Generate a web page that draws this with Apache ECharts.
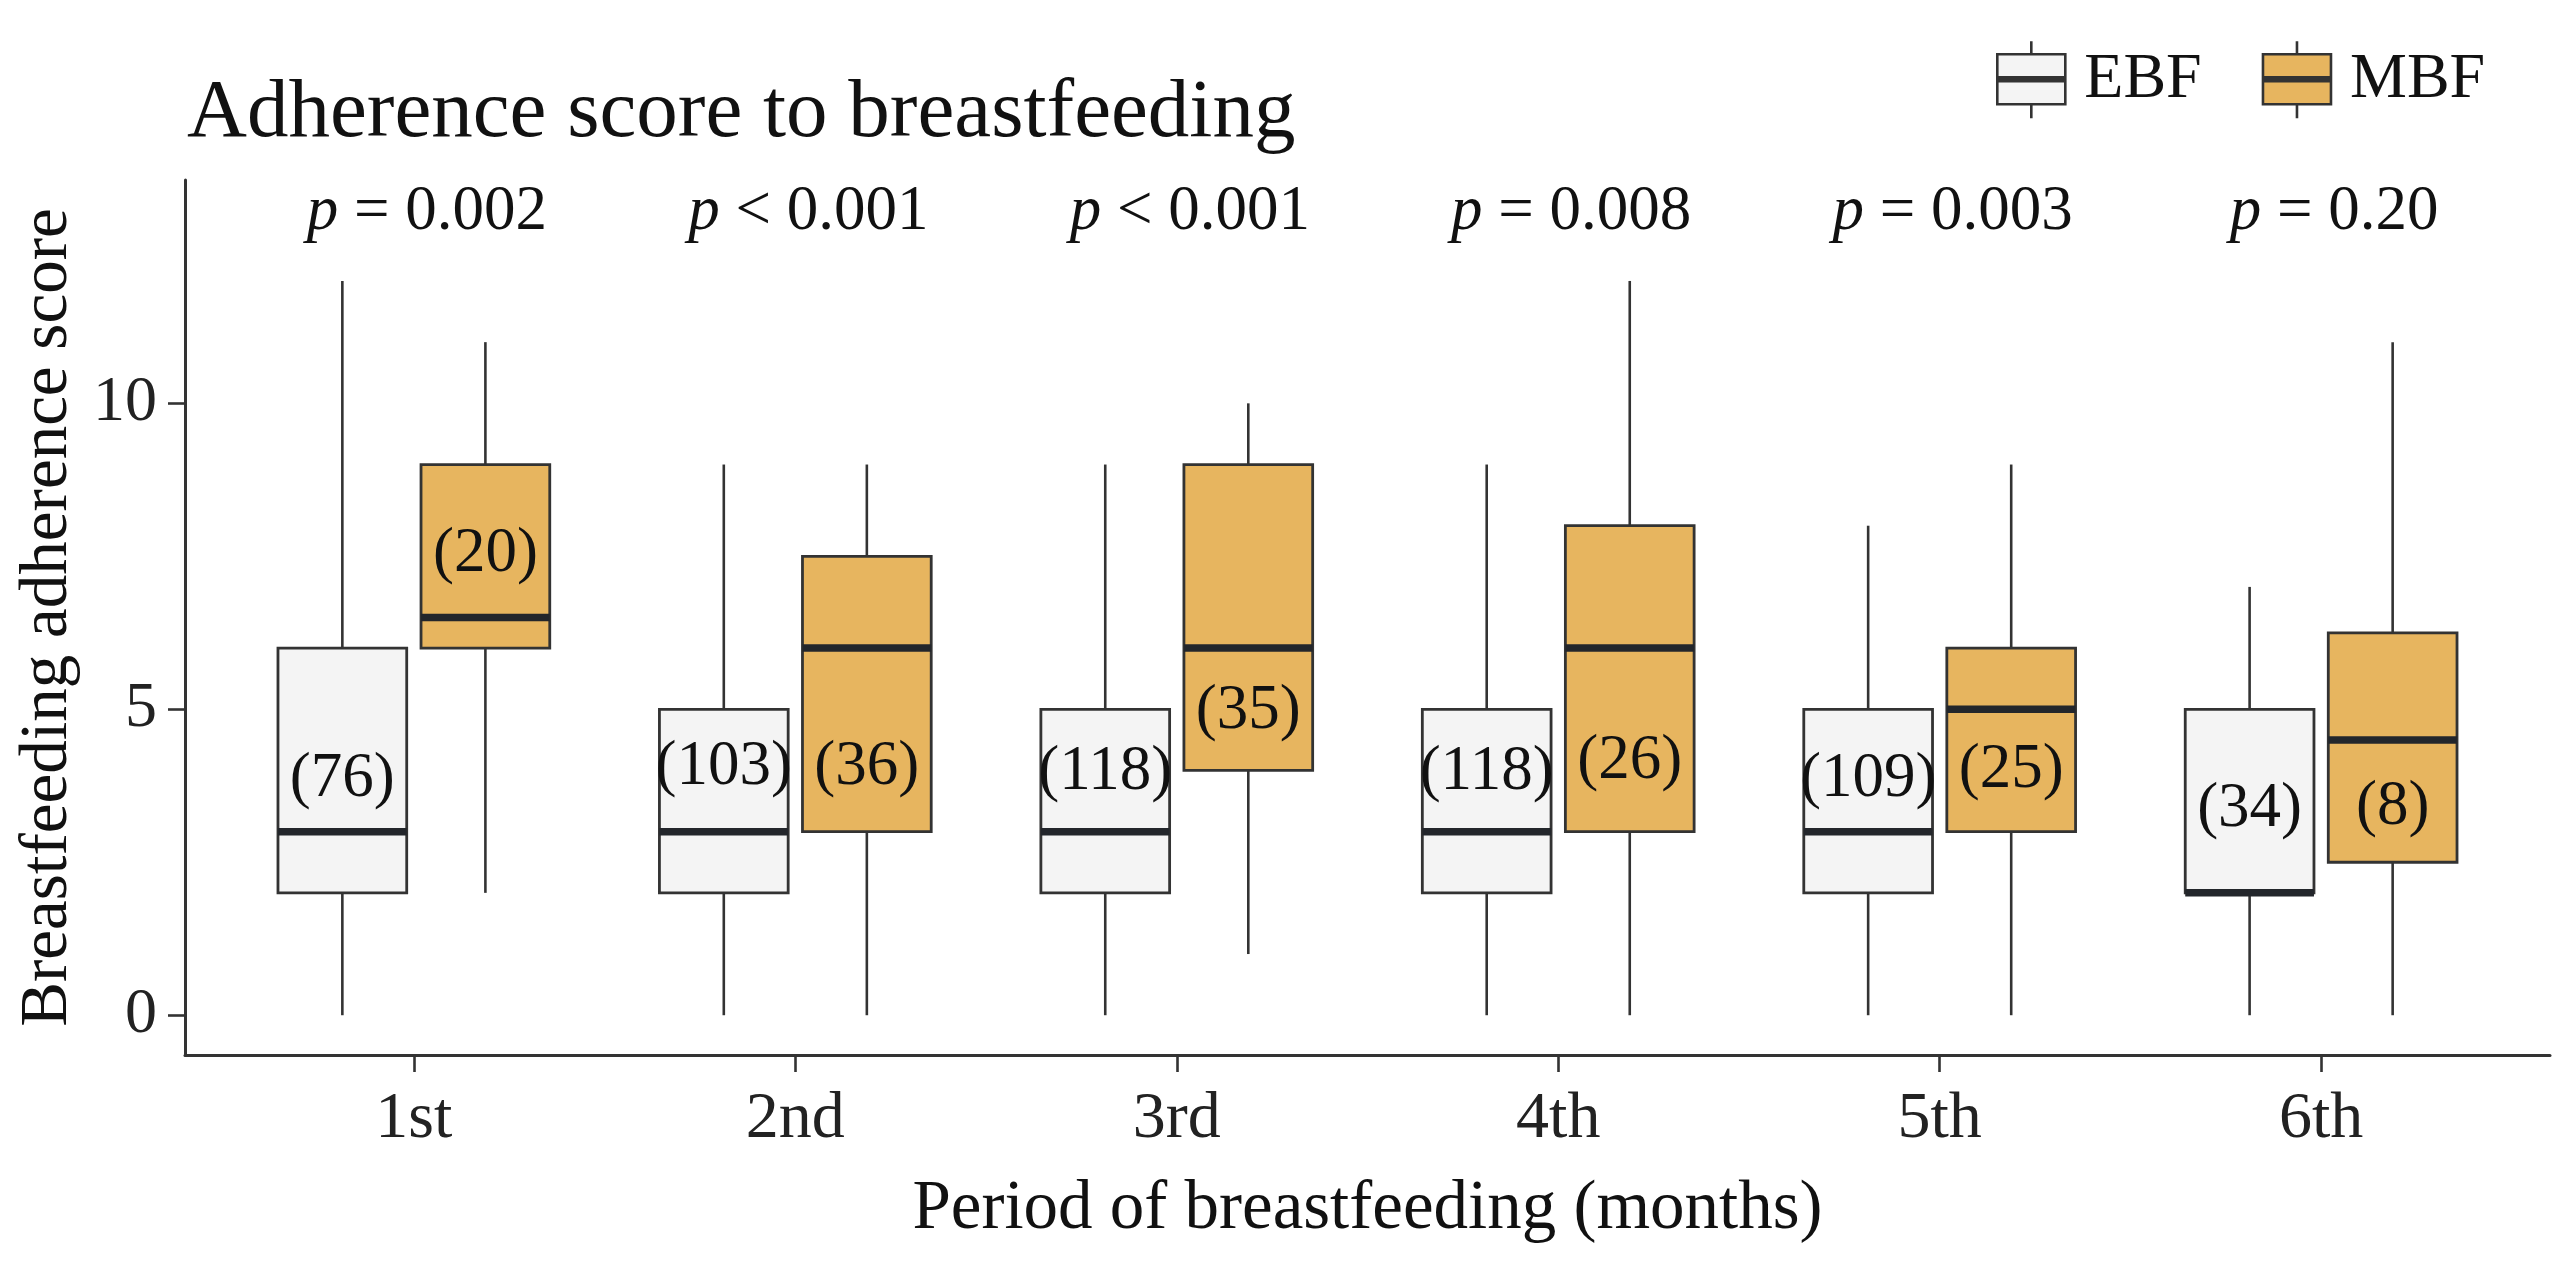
<!DOCTYPE html>
<html>
<head>
<meta charset="utf-8">
<script src="https://cdn.jsdelivr.net/npm/echarts@6/dist/echarts.min.js"></script>
<style>
html,body{margin:0;padding:0;background:#fff;}
#chart{width:2568px;height:1264px;}
</style>
</head>
<body>
<div id="chart"></div>
<script>
// ---- data ----
const categories = ['1st', '2nd', '3rd', '4th', '5th', '6th'];
const yTicks = [0, 5, 10];

const ebfLow  = [0, 0, 0, 0, 0, 0];
const ebfQ1   = [2, 2, 2, 2, 2, 2];
const ebfMed  = [3, 3, 3, 3, 3, 2];
const ebfQ3   = [6, 5, 5, 5, 5, 5];
const ebfHigh = [12, 9, 9, 9, 8, 7];
const ebfN    = [76, 103, 118, 118, 109, 34];
const ebfLabelY = [3.86, 4.05, 3.96, 3.96, 3.86, 3.36];

const mbfLow  = [2, 0, 1, 0, 0, 0];
const mbfQ1   = [6, 3, 4, 3, 3, 2.5];
const mbfMed  = [6.5, 6, 6, 6, 5, 4.5];
const mbfQ3   = [9, 7.5, 9, 8, 6, 6.25];
const mbfHigh = [11, 9, 10, 12, 9, 11];
const mbfN    = [20, 36, 35, 26, 25, 8];
const mbfLabelY = [7.53, 4.05, 4.96, 4.14, 4.0, 3.4];

const pTexts = ['= 0.002', '< 0.001', '< 0.001', '= 0.008', '= 0.003', '= 0.20'];
const pLabelY = 13.12;

// ---- styling ----
const FONT = 'Liberation Serif';
const LINE = '#333333';
const EBF_FILL = '#f4f4f4';
const MBF_FILL = '#e7b55f';
const BOX_W = 0.3375;
const DODGE = 0.1875;

function buildData(low, q1, med, q3, high, n, ly) {
  return categories.map((c, i) => [i + 1, low[i], q1[i], med[i], q3[i], high[i], ly[i], n[i]]);
}

function makeRender(offset, fill) {
  return function (params, api) {
    const x = api.value(0) + offset;
    const low = api.value(1), q1 = api.value(2), med = api.value(3),
          q3 = api.value(4), high = api.value(5), ly = api.value(6), n = api.value(7);
    const half = api.size([BOX_W, 0])[0] / 2;
    const pLow = api.coord([x, low]);
    const pQ1 = api.coord([x, q1]);
    const pMed = api.coord([x, med]);
    const pQ3 = api.coord([x, q3]);
    const pHigh = api.coord([x, high]);
    const pLab = api.coord([x, ly]);
    const cx = pQ1[0];
    return {
      type: 'group',
      children: [
        { type: 'line', shape: { x1: cx, y1: pHigh[1], x2: cx, y2: pQ3[1] },
          style: { stroke: LINE, lineWidth: 2.6 } },
        { type: 'line', shape: { x1: cx, y1: pQ1[1], x2: cx, y2: pLow[1] },
          style: { stroke: LINE, lineWidth: 2.6 } },
        { type: 'rect', shape: { x: cx - half, y: pQ3[1], width: half * 2, height: pQ1[1] - pQ3[1] },
          style: { fill: fill, stroke: LINE, lineWidth: 2.8 } },
        { type: 'line', shape: { x1: cx - half, y1: pMed[1], x2: cx + half, y2: pMed[1] },
          style: { stroke: '#23262b', lineWidth: 7.5 } },
        { type: 'text', x: cx, y: pLab[1],
          style: { text: '(' + n + ')', fill: '#111', font: '63px "' + FONT + '"',
                   align: 'center', verticalAlign: 'middle' } }
      ]
    };
  };
}

function renderP(params, api) {
  const p = api.coord([api.value(0), api.value(1)]);
  const t = pTexts[params.dataIndex];
  return {
    type: 'text', x: p[0] + 13, y: p[1],
    style: {
      text: '{i|p} ' + t,
      fill: '#111',
      font: '63px "' + FONT + '"',
      align: 'center', verticalAlign: 'middle',
      rich: { i: { fontStyle: 'italic', fontFamily: FONT, fontSize: 63, fill: '#111' } }
    }
  };
}

const boxIcon = 'path://M0,13 L68,13 L68,63 L0,63 Z M0,36 L68,36 M0,38 L68,38 M0,40 L68,40 M34,0 L34,13 M34,63 L34,77';

const chart = echarts.init(document.getElementById('chart'));
chart.setOption({
  backgroundColor: '#fff',
  animation: false,
  title: {
    text: 'Adherence score to breastfeeding',
    left: 182, top: 68,
    textStyle: { fontFamily: FONT, fontSize: 83, fontWeight: 'normal', color: '#111' }
  },
  legend: {
    left: 1991, top: 35,
    itemWidth: 68, itemHeight: 77, itemGap: 60,
    data: [{ name: 'EBF', icon: boxIcon }, { name: 'MBF', icon: boxIcon }],
    textStyle: { fontFamily: FONT, fontSize: 64, color: '#111', padding: [0, 0, 0, 14] },
    itemStyle: { borderColor: LINE, borderWidth: 2.6 },
    selectedMode: false
  },
  grid: { left: 185, right: 18, top: 180, bottom: 209, containLabel: false },
  xAxis: {
    type: 'value', min: 0.4, max: 6.6,
    name: 'Period of breastfeeding (months)',
    nameLocation: 'middle', nameGap: 120,
    nameTextStyle: { fontFamily: FONT, fontSize: 69, color: '#111' },
    axisLine: { show: true, onZero: false, lineStyle: { color: LINE, width: 3 } },
    axisTick: { show: true, length: 17, customValues: [1, 2, 3, 4, 5, 6], lineStyle: { color: LINE, width: 2.6 } },
    axisLabel: { customValues: [1, 2, 3, 4, 5, 6], margin: 32,
      formatter: v => categories[Math.round(v) - 1],
      fontFamily: FONT, fontSize: 66, color: '#222' },
    splitLine: { show: false }
  },
  yAxis: {
    type: 'value', min: -0.65, max: 13.65,
    name: 'Breastfeeding adherence score',
    nameLocation: 'middle', nameGap: 100,
    nameTextStyle: { fontFamily: FONT, fontSize: 67, color: '#111' },
    axisLine: { show: true, onZero: false, lineStyle: { color: LINE, width: 3 } },
    axisTick: { show: true, length: 17, customValues: yTicks, lineStyle: { color: LINE, width: 2.6 } },
    axisLabel: { customValues: yTicks, margin: 28, fontFamily: FONT, fontSize: 64, color: '#222' },
    splitLine: { show: false }
  },
  series: [
    {
      name: 'EBF', type: 'custom',
      itemStyle: { color: EBF_FILL, borderColor: LINE, borderWidth: 2.6 },
      renderItem: makeRender(-DODGE, EBF_FILL),
      encode: { x: 0, y: [1, 2, 3, 4, 5] },
      data: buildData(ebfLow, ebfQ1, ebfMed, ebfQ3, ebfHigh, ebfN, ebfLabelY)
    },
    {
      name: 'MBF', type: 'custom',
      itemStyle: { color: MBF_FILL, borderColor: LINE, borderWidth: 2.6 },
      renderItem: makeRender(DODGE, MBF_FILL),
      encode: { x: 0, y: [1, 2, 3, 4, 5] },
      data: buildData(mbfLow, mbfQ1, mbfMed, mbfQ3, mbfHigh, mbfN, mbfLabelY)
    },
    {
      name: 'p', type: 'custom',
      renderItem: renderP,
      encode: { x: 0, y: 1 },
      data: categories.map((c, i) => [i + 1, pLabelY])
    }
  ]
});
</script>
</body>
</html>
